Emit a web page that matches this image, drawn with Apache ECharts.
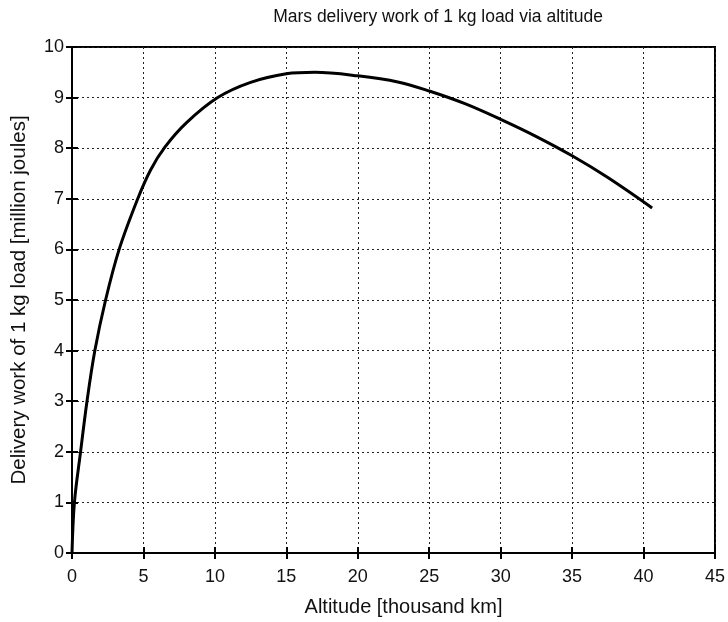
<!DOCTYPE html>
<html>
<head>
<meta charset="utf-8">
<script src="https://cdn.jsdelivr.net/npm/echarts@6/dist/echarts.min.js"></script>
<style>
  html, body { margin: 0; padding: 0; background: #fff; }
  #chart { width: 728px; height: 622px; }
</style>
</head>
<body>
<div id="chart"></div>
<script>
// altitude [thousand km] and delivery work [million joules]
const altitude = [0, 0.17, 0.6, 1.05, 1.6, 2.35, 3.3, 4.6, 5.5, 6.5, 8, 10.2, 12.5, 15, 17, 20, 22.8, 25, 27.5, 30, 32.5, 35, 37.5, 40.6];
const work = [0, 1, 2, 3, 4, 5, 6, 7, 7.57, 8.02, 8.5, 9, 9.3, 9.47, 9.5, 9.43, 9.31, 9.13, 8.88, 8.57, 8.23, 7.85, 7.42, 6.82];

const font = "'Liberation Sans', Arial, sans-serif";

const chart = echarts.init(document.getElementById("chart"));

const gridLine = { show: true, lineStyle: { color: "#222", width: 1, type: [2, 3] } };
const tick = { show: true, inside: true, length: 6, lineStyle: { color: "#000", width: 2 } };

chart.setOption({
  animation: false,
  title: {
    text: "Mars delivery work of 1 kg load via altitude",
    left: 433,
    top: 3,
    textAlign: "center",
    textStyle: { fontFamily: font, fontSize: 17.5, fontWeight: "normal", color: "#111" },
  },
  grid: {
    left: 72, right: 11, top: 47, bottom: 67,
    show: true, borderColor: "#000", borderWidth: 2,
  },
  xAxis: [
    {
      type: "value", min: 0, max: 45, interval: 5,
      name: "Altitude [thousand km]",
      nameLocation: "middle", nameGap: 44,
      nameTextStyle: { fontFamily: font, fontSize: 20, color: "#111", padding: [0, 0, 0, 20] },
      axisLine: { show: true, lineStyle: { color: "#000", width: 2 } },
      axisTick: tick,
      axisLabel: { fontFamily: font, fontSize: 18, color: "#111", margin: 15 },
      splitLine: gridLine,
    },
    {
      type: "value", min: 0, max: 45, interval: 5, position: "top",
      axisLine: { show: false }, axisTick: tick,
      axisLabel: { show: false }, splitLine: { show: false },
    },
  ],
  yAxis: [
    {
      type: "value", min: 0, max: 10, interval: 1,
      name: "Delivery work of 1 kg load [million joules]",
      nameLocation: "middle", nameGap: 42,
      nameTextStyle: { fontFamily: font, fontSize: 20.5, color: "#111" },
      axisLine: { show: true, lineStyle: { color: "#000", width: 2 } },
      axisTick: tick,
      axisLabel: { fontFamily: font, fontSize: 18, color: "#111", margin: 8 },
      splitLine: gridLine,
    },
    {
      type: "value", min: 0, max: 10, interval: 1, position: "right",
      axisLine: { show: false }, axisTick: tick,
      axisLabel: { show: false }, splitLine: { show: false },
    },
  ],
  series: [
    {
      type: "line",
      data: altitude.map((a, i) => [a, work[i]]),
      smooth: 0.35,
      showSymbol: false,
      lineStyle: { color: "#000", width: 3 },
    },
  ],
});
</script>
</body>
</html>
